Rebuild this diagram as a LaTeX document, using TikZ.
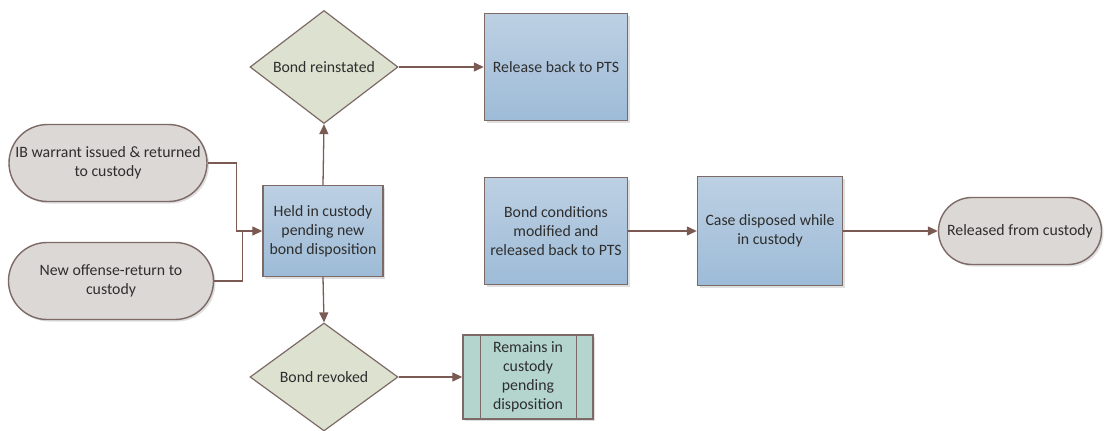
\documentclass[tikz,border=0pt]{standalone}
\usepackage{fontspec}
\setmainfont{Carlito}
\usepackage{xcolor}
\usetikzlibrary{shapes, arrows.meta, positioning, shadows}
\definecolor{borde}{HTML}{7D6A66}
\definecolor{flechacol}{HTML}{7A5A52}
\definecolor{azularriba}{HTML}{BDD0E3}
\definecolor{azulabajo}{HTML}{9DBBD7}
\definecolor{gris}{HTML}{DCD8D6}
\definecolor{verdegris}{HTML}{DDE1D0}
\definecolor{verdeagua}{HTML}{B4D5CD}
\definecolor{texto}{HTML}{2E2E2E}
\newcommand{\T}{\fontsize{15.8}{19}\selectfont}

\begin{document}
\begin{tikzpicture}[x=1pt, y=-1pt,
    caja/.style={rectangle, draw=borde, line width=1.4pt, top color=azularriba, bottom color=azulabajo,
        align=center, inner sep=1pt, font=\T, text=texto, drop shadow={shadow xshift=2pt, shadow yshift=-2pt, opacity=0.25}},
    capsula/.style={rounded rectangle, draw=borde, line width=1.4pt, fill=gris, align=center, inner sep=1pt,
        font=\T, text=texto, drop shadow={shadow xshift=2pt, shadow yshift=-2pt, opacity=0.25}},
    rombo/.style={diamond, draw=borde, line width=1.2pt, fill=verdegris, inner sep=0pt, font=\T, text=texto},
    proceso/.style={rectangle, draw=borde, line width=1.4pt, fill=verdeagua, align=center, inner sep=1pt,
        font=\T, text=texto, drop shadow={shadow xshift=2pt, shadow yshift=-2pt, opacity=0.25}},
    flecha/.style={draw=flechacol, line width=1.3pt, -{Triangle[length=10pt, width=9pt]}},
    linea/.style={draw=flechacol, line width=1.3pt}]
        \useasboundingbox (0,0) rectangle (1104,431);
        % Entradas de la izquierda
        \node[capsula, minimum width=200pt, minimum height=77pt] (ib) at (108,163) {IB warrant issued \& returned\\to custody};
        \node[capsula, minimum width=207pt, minimum height=77pt] (nuevo) at (111,281) {New offense-return to\\custody};
        % Caja central
        \node[caja, minimum width=120pt, minimum height=91pt] (retenido) at (323,231) {Held in custody\\pending new\\bond disposition};
        % Decisiones arriba y abajo
        \node[rombo, minimum width=148pt, minimum height=110pt] (reinst) at (324,67) {Bond reinstated};
        \node[rombo, minimum width=148pt, minimum height=108pt] (revoc) at (324,377) {Bond revoked};
        % Resultados
        \node[caja, minimum width=143pt, minimum height=107pt] (pts) at (556,67) {Release back to PTS};
        \node[proceso, minimum width=130pt, minimum height=84pt] (sigue) at (528,377) {Remains in\\custody\\pending\\disposition};
        \draw[draw=borde, line width=1.3pt] ([xshift=18pt]sigue.north west) -- ([xshift=18pt]sigue.south west);
        \draw[draw=borde, line width=1.3pt] ([xshift=-17pt]sigue.north east) -- ([xshift=-17pt]sigue.south east);
        % Fila del medio a la derecha
        \node[caja, minimum width=143pt, minimum height=107pt] (modif) at (556,231) {Bond conditions\\modified and\\released back to PTS};
        \node[caja, minimum width=145pt, minimum height=109pt] (caso) at (770,231) {Case disposed while\\in custody};
        \node[capsula, minimum width=165pt, minimum height=67pt] (libre) at (1020,231) {Released from custody};
        % Flechas
        \draw[linea] (ib.east) -| ([xshift=-26pt]retenido.west);
        \draw[flecha] ([xshift=-26pt]retenido.west) -- (retenido.west);
        \draw[linea] (nuevo.east) -| ([xshift=-20pt]retenido.west);
        \draw[flecha] (retenido.north) -- (reinst.south);
        \draw[flecha] (retenido.south) -- (revoc.north);
        \draw[flecha] (reinst.east) -- (pts.west);
        \draw[flecha] (revoc.east) -- (sigue.west);
        \draw[flecha] (modif.east) -- (caso.west);
        \draw[flecha] (caso.east) -- (libre.west);
    \end{tikzpicture}
\end{document}
